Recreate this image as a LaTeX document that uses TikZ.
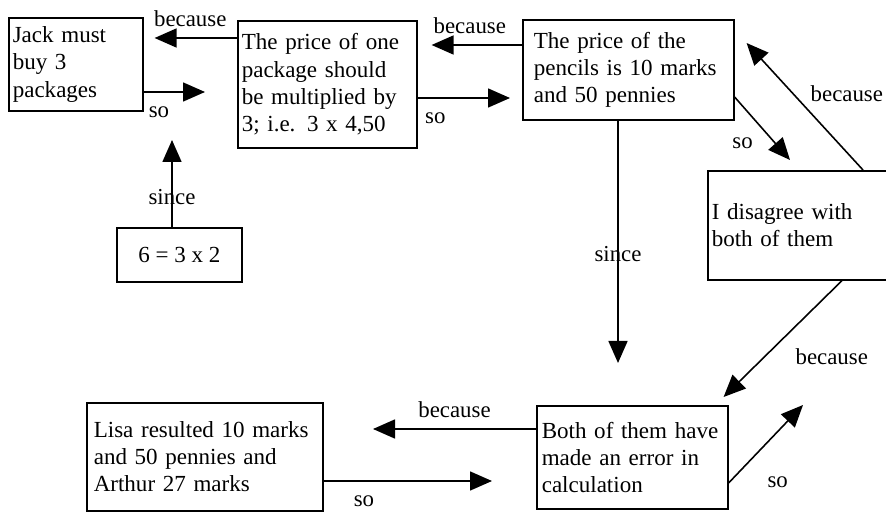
\documentclass[tikz,border=0pt]{standalone}
\usepackage{fontspec}
\setmainfont{Liberation Serif}
\usetikzlibrary{arrows.meta,positioning}

\begin{document}
\begin{tikzpicture}[x=0.2mm, y=-0.2mm,
    font=\fontsize{13.1}{15.5}\selectfont,
    stmt/.style={rectangle, draw, line width=0.9pt, anchor=north west,
      align=left, inner xsep=0.8mm, inner ysep=0pt},
    lbl/.style={font=\fontsize{13}{15}\selectfont, inner sep=1pt},
    arr/.style={-{Triangle[length=4.4mm, width=3.8mm]}, line width=0.9pt}]
  \useasboundingbox (0,0) rectangle (886,512);
  % statements
  \node[stmt, text width=25.2mm, minimum height=18.6mm] (jack) at (8,17)
    {Jack must\\ buy 3\\ packages};
  \node[stmt, text width=34.2mm, minimum height=25.4mm] (one) at (237,20)
    {The price of one\\ package should\\ be multiplied by\\ 3; i.e. 3 x 4,50};
  \node[stmt, inner xsep=2.2mm, text width=37.8mm, minimum height=20mm]
    (pencils) at (522,19)
    {The price of the\\ pencils is 10 marks\\ and 50 pennies};
  \node[stmt, text width=35.4mm, minimum height=21.8mm] (disagree)
    at (707,170) {I disagree with\\ both of them};
  \node[stmt, align=center, minimum width=25mm, minimum height=10.8mm]
    (six) at (116,227) {6 = 3 x 2};
  \node[stmt, inner xsep=1.4mm, text width=44.4mm, minimum height=21.6mm]
    (lisa) at (86,402)
    {Lisa resulted 10 marks\\ and 50 pennies and\\ Arthur 27 marks};
  \node[stmt, inner xsep=1mm, text width=36.2mm, minimum height=20.6mm]
    (both) at (536,405)
    {Both of them have\\ made an error in\\ calculation};
  % free ends
  \coordinate (freeJ) at (205,92);
  \coordinate (freeS) at (172,140);
  \coordinate (freeP) at (790,160);
  \coordinate (freeD) at (618,363);
  \coordinate (freeL) at (373,429);
  \coordinate (freeR) at (492,481);
  \coordinate (freeU) at (803,405);
  % connectors
  \draw[arr, shorten >=2.2mm] (one.west |- 0,38) --
    node[lbl, above=5pt]{because} (jack.east |- 0,38);
  \draw[arr] (jack.east |- freeJ) --
    node[lbl, pos=0.25, below=7pt]{so} (freeJ);
  \draw[arr] (six.north -| freeS) -- node[lbl, pos=0.34]{since} (freeS);
  \draw[arr, shorten >=2.8mm] (pencils.west |- 0,45) --
    node[lbl, above=5pt]{because} (one.east |- 0,45);
  \draw[arr, shorten >=2.4mm] (one.east |- 0,98) --
    node[lbl, pos=0.17, below=7pt]{so} (pencils.west |- 0,98);
  \draw[arr] (pencils.east |- 0,97) --
    node[lbl, pos=0.5, below left=2mm]{so} (freeP);
  \draw[arr] (863,0 |- disagree.north) --
    node[lbl, pos=0.6, right=3mm]{because}
    ([shift={(12,24)}]pencils.north east);
  \draw[arr] (freeD |- pencils.south) --
    node[lbl, pos=0.55]{since} (freeD);
  \draw[arr] (842,0 |- disagree.south) --
    node[lbl, pos=0.65, right=5.6mm]{because}
    ([shift={(-5,-8)}]both.north east);
  \draw[arr] (both.west |- freeL) --
    node[lbl, above=5pt]{because} (freeL);
  \draw[arr] (lisa.east |- freeR) --
    node[lbl, pos=0.24, below=7pt]{so} (freeR);
  \draw[arr] (both.east |- 0,483) --
    node[lbl, pos=0.3, below right=4mm]{so} (freeU);
\end{tikzpicture}
\end{document}
